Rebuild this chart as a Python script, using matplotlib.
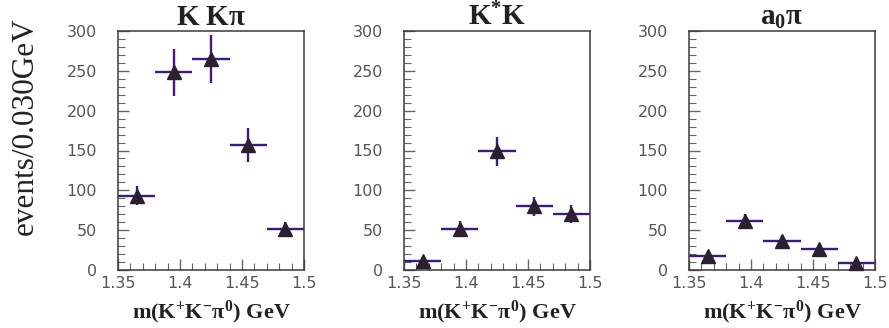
import matplotlib

matplotlib.use("Agg")
import matplotlib.pyplot as plt
from matplotlib.ticker import MultipleLocator
import numpy as np

plt.rcParams["mathtext.fontset"] = "custom"
plt.rcParams["mathtext.rm"] = "Liberation Serif:bold"
plt.rcParams["mathtext.it"] = "Liberation Serif:bold"
plt.rcParams["mathtext.bf"] = "Liberation Serif:bold"

# 0.030 GeV 빈, m(K+K-pi0) 1.35 ~ 1.50
BIN_EDGES = [1.35, 1.38, 1.41, 1.44, 1.47, 1.50]
TITLES = ["K K$\\pi$", "K$^{*}$K", "a$_{0}\\pi$"]
KKPI = [93, 248, 265, 157, 51]
KKPI_ERR = [12, 30, 30, 21, 9]
KSTK = [11, 52, 149, 80, 70]
KSTK_ERR = [5, 10, 18, 12, 11]
A0PI = [18, 61, 36, 26, 9]
A0PI_ERR = [5, 9, 8, 6, 4]
Y_TICKS = [0, 50, 100, 150, 200, 250, 300]
X_TICKS = [1.35, 1.4, 1.45, 1.5]
X_TICKLABELS = ["1.35", "1.4", "1.45", "1.5"]

BAR_COLOR = "#3b1a86"
MARK_COLOR = "#2a2030"
AX_COLOR = "#3a3a3a"

edges = np.array(BIN_EDGES)
centers = (edges[:-1] + edges[1:]) / 2
half_w = (edges[1:] - edges[:-1]) / 2

fig = plt.figure(figsize=(8.89, 3.28), dpi=100)
lefts = [118 / 889, 404 / 889, 689 / 889]
W, B, H = 186 / 889, 58 / 328, 239 / 328

panels = [(KKPI, KKPI_ERR), (KSTK, KSTK_ERR), (A0PI, A0PI_ERR)]
for left, title, (vals, errs) in zip(lefts, TITLES, panels):
    ax = fig.add_axes([left, B, W, H])
    ax.errorbar(centers, vals, xerr=half_w, yerr=errs, fmt="none",
                ecolor=BAR_COLOR, elinewidth=1.7, capsize=0, clip_on=False)
    ax.plot(centers, vals, "^", color=MARK_COLOR, ms=10.5, clip_on=False, zorder=5)
    ax.set_xlim(1.35, 1.5)
    ax.set_ylim(0, 300)
    ax.set_yticks(Y_TICKS)
    ax.set_xticks(X_TICKS)
    ax.set_xticklabels(X_TICKLABELS)
    ax.yaxis.set_minor_locator(MultipleLocator(10))
    ax.xaxis.set_minor_locator(MultipleLocator(0.01))
    ax.tick_params(which="both", direction="in", top=False, right=False,
                   colors="#666666", labelcolor="#555555", labelsize=11.5,
                   labelfontfamily="DejaVu Sans")
    ax.tick_params(axis="y", which="major", length=8, width=1.0, pad=15)
    ax.tick_params(axis="y", which="minor", length=5, width=0.8)
    ax.tick_params(axis="x", which="major", length=8, width=1.0, pad=4)
    ax.tick_params(axis="x", which="minor", length=5, width=0.8)
    for s in ax.spines.values():
        s.set_color(AX_COLOR)
        s.set_linewidth(1.1)
    ax.set_title(title, fontsize=21, fontfamily="Liberation Serif",
                 fontweight="bold", pad=4, color="#222222")
    ax.set_xlabel("m(K$^{+}$K$^{-}\\pi^{0}$) GeV", fontsize=16,
                  fontfamily="Liberation Serif", fontweight="bold",
                  labelpad=6, color="#222222")

fig.text(25 / 889, 1 - 126 / 328, "events/0.030GeV", rotation=90,
         ha="center", va="center", fontsize=22.5,
         fontfamily="Liberation Serif", color="#222222")

fig.savefig("out.png", dpi=100)
